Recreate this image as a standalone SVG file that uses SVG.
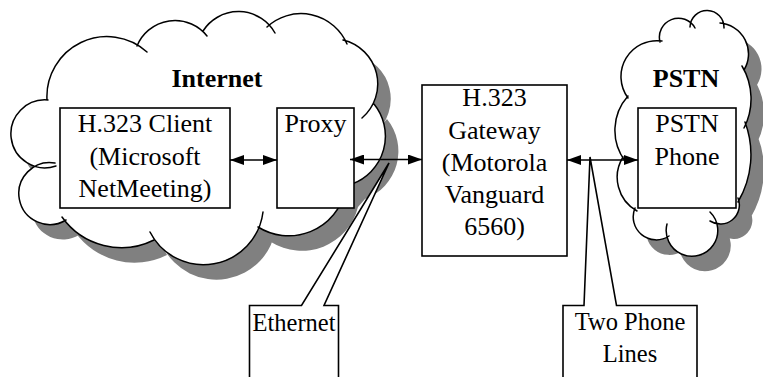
<svg xmlns="http://www.w3.org/2000/svg" width="763" height="377" viewBox="0 0 763 377">
<defs>
<style>
.shadow{fill:#808080;stroke:none}
.cfill{fill:#fff;stroke:none}
.cline{fill:none;stroke:#000;stroke-width:1.5;stroke-linecap:round}
.box{fill:#fff;stroke:#000;stroke-width:1.6}
.conn{fill:none;stroke:#000;stroke-width:1.5;marker-start:url(#ah);marker-end:url(#ah)}
.t{font-family:"Liberation Serif","Times New Roman",serif;font-size:26px;fill:#000;text-anchor:middle}
.b{font-weight:bold}
.c{font-size:24.5px}
</style>
<marker id="ah" viewBox="0 0 14 10" refX="14" refY="5" markerWidth="14" markerHeight="10" markerUnits="userSpaceOnUse" orient="auto-start-reverse">
<path d="M0,0 L14,5 L0,10 z" fill="#000"/>
</marker>
<path id="inetFill" d="M47,100 A60,60 0 0 1 147,52 L137,46 A41,41 0 0 1 207,36 L203,31 A42,42 0 0 1 275,33 L267,27 A50,50 0 0 1 347,44 L343,40 A45,45 0 0 1 362,118 L374,104 A51,51 0 0 1 352,184 L345,192 A58,58 0 0 1 258,227 L263,212 A60,60 0 0 1 150,232 L154,240 A73,73 0 0 1 62,217 L66,220 A31,31 0 1 1 55,163 L56,166 A34,34 0 1 1 48,100 Z"/>
<path id="pstnFill" d="M628,98 A36,36 0 0 1 662,41 L660,42 A19,19 0 0 1 695,28 L690,27 A17,17 0 0 1 724,28 L720,23 A31,31 0 0 1 744,70 L742,66 A64,64 0 0 1 744,128 L745,122 A93,93 0 0 1 738,202 L738,198 A19,19 0 0 1 710,221 L710,212 A25.8,25.8 0 1 1 667,224 L669,236 A23,23 0 0 1 635,208 L637,211 A38.6,38.6 0 0 1 623,157 L625,161 A51.6,51.6 0 0 1 628,96 Z"/>
</defs>

<g id="internet-cloud">
<use href="#inetFill" class="shadow" transform="translate(13,15)"/>
<use href="#inetFill" class="cfill"/>
<path class="cline" d="M47,100 A60,60 0 0 1 147,52 M137,46 A41,41 0 0 1 207,36 M203,31 A42,42 0 0 1 275,33 M267,27 A50,50 0 0 1 347,44 M343,40 A45,45 0 0 1 362,118 M374,104 A51,51 0 0 1 352,184 M345,192 A58,58 0 0 1 258,227 M263,212 A60,60 0 0 1 150,232 M154,240 A73,73 0 0 1 62,217 M66,220 A31,31 0 1 1 55,163 M56,166 A34,34 0 1 1 48,100"/>
<text class="t b" x="217" y="87">Internet</text>
</g>

<g id="pstn-cloud">
<use href="#pstnFill" class="shadow" transform="translate(13,15)"/>
<use href="#pstnFill" class="cfill"/>
<path class="cline" d="M628,98 A36,36 0 0 1 662,41 M660,42 A19,19 0 0 1 695,28 M690,27 A17,17 0 0 1 724,28 M720,23 A31,31 0 0 1 744,70 M742,66 A64,64 0 0 1 744,128 M745,122 A93,93 0 0 1 738,202 M738,198 A19,19 0 0 1 710,221 M710,212 A25.8,25.8 0 1 1 667,224 M669,236 A23,23 0 0 1 635,208 M637,211 A38.6,38.6 0 0 1 623,157 M625,161 A51.6,51.6 0 0 1 628,96"/>
<text class="t b" x="686" y="87">PSTN</text>
</g>

<g id="h323-client">
<rect class="box" x="60" y="108" width="170" height="100"/>
<text class="t" x="145" y="132">H.323 Client</text>
<text class="t" x="145" y="165">(Microsoft</text>
<text class="t" x="145" y="197">NetMeeting)</text>
</g>

<g id="proxy">
<rect class="box" x="277" y="108" width="77" height="100"/>
<text class="t" x="315.5" y="132">Proxy</text>
</g>

<g id="gateway">
<rect class="box" x="422" y="85" width="145" height="171"/>
<text class="t" x="494.5" y="106">H.323</text>
<text class="t" x="494.5" y="138.5">Gateway</text>
<text class="t" x="494.5" y="171">(Motorola</text>
<text class="t" x="494.5" y="203">Vanguard</text>
<text class="t" x="494.5" y="235">6560)</text>
</g>

<g id="pstn-phone">
<rect class="box" x="638" y="108" width="98" height="100"/>
<text class="t" x="687" y="132">PSTN</text>
<text class="t" x="687" y="165">Phone</text>
</g>

<g id="ethernet-callout">
<path class="box" d="M249.5,380 V305.5 H301.5 L389,163 L324,305.5 H338.5 V380"/>
<text class="t c" x="294" y="331">Ethernet</text>
</g>

<g id="phone-lines-callout">
<path class="box" d="M563,380 V305.5 H584 L590,157 L616.5,305.5 H697 V380"/>
<text class="t c" x="630" y="330">Two Phone</text>
<text class="t c" x="630" y="362">Lines</text>
</g>

<g id="connectors">
<line class="conn" x1="230" y1="160" x2="277" y2="160"/>
<line class="conn" x1="350" y1="159.5" x2="422" y2="159.5"/>
<line class="conn" x1="567" y1="160" x2="638" y2="160"/>
</g>
</svg>
